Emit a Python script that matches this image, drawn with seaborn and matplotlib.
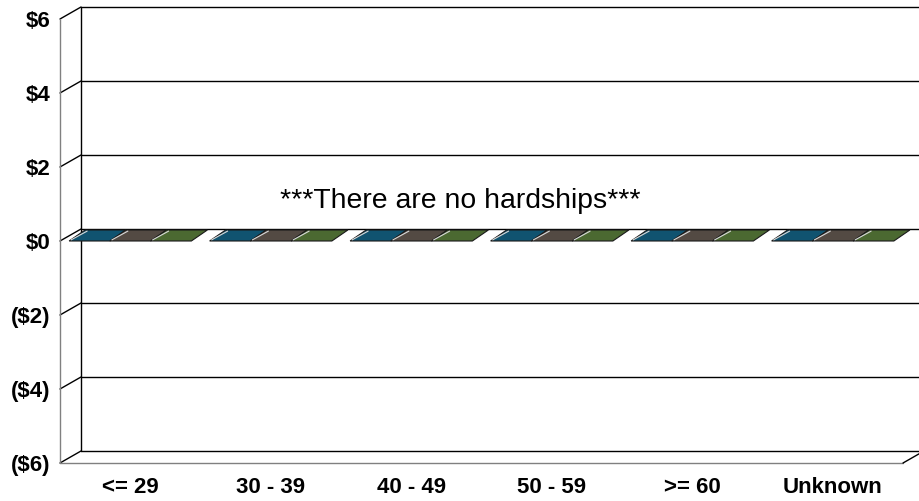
import matplotlib
matplotlib.use("Agg")
import matplotlib.pyplot as plt
from matplotlib.patches import Polygon
import seaborn as sns
import pandas as pd

# Age bands and the three series (all zero: no hardships recorded)
age_bands = ["<= 29", "30 - 39", "40 - 49", "50 - 59", ">= 60", "Unknown"]
series_names = ["Series 1", "Series 2", "Series 3"]
series_1 = [0, 0, 0, 0, 0, 0]
series_2 = [0, 0, 0, 0, 0, 0]
series_3 = [0, 0, 0, 0, 0, 0]
series_colors = ["#005A80", "#564A40", "#4A7228"]
y_ticks = [-6, -4, -2, 0, 2, 4, 6]
y_tick_labels = ["($6)", "($4)", "($2)", "$0", "$2", "$4", "$6"]
note_text = "***There are no hardships***"

rows = []
for name, vals in zip(series_names, [series_1, series_2, series_3]):
    for band, v in zip(age_bands, vals):
        rows.append({"age": band, "amount": v, "series": name})
df = pd.DataFrame(rows)

sns.set_theme(style="white")
plt.rcParams["font.family"] = ["Liberation Sans", "DejaVu Sans"]

W, H = 920, 501
fig = plt.figure(figsize=(W / 100, H / 100), dpi=100)
ax = fig.add_axes([60 / W, 38 / H, 843 / W, 444 / H])

sns.barplot(data=df, x="age", y="amount", hue="series", order=age_bands,
            hue_order=series_names, palette=series_colors, width=0.87,
            legend=False, linewidth=0, ax=ax)

ax.set_xlim(-0.5, len(age_bands) - 0.5)
ax.set_ylim(-6, 6)
for s in ax.spines.values():
    s.set_visible(False)

# pseudo-3D depth offsets in data units
px_x = 843 / len(age_bands)
px_y = 444 / 12
DX, DY = 21 / px_x, 12 / px_y
BDX, BDY = 16 / px_x, 11 / px_y

x0, x1 = -0.5, len(age_bands) - 0.5
line_kw = dict(clip_on=False, zorder=1)

# back wall gridlines and left wall edges
for t in y_ticks:
    ax.plot([x0 + DX, x1 + DX + 0.2], [t + DY, t + DY], color="black", lw=1.0, **line_kw)
    ax.plot([x0, x0 + DX], [t, t + DY], color="black", lw=1.0, **line_kw)
ax.plot([x0 + DX, x0 + DX], [-6 + DY, 6 + DY], color="black", lw=1.0, **line_kw)
ax.plot([x0, x0], [-6, 6], color="#808080", lw=1.0, **line_kw)
ax.plot([x0, x1], [-6, -6], color="#808080", lw=1.0, **line_kw)
ax.plot([x1, x1 + DX], [-6, -6 + DY], color="black", lw=1.0, **line_kw)

# top faces of the bars at their value
for patch in ax.patches:
    bx = patch.get_x()
    bw = patch.get_width()
    val = patch.get_y() + patch.get_height()
    poly = Polygon([(bx, val), (bx + bw, val), (bx + bw + BDX, val + BDY),
                    (bx + BDX, val + BDY)], closed=True,
                   facecolor=patch.get_facecolor(), edgecolor="#1a1a1a",
                   lw=0.8, zorder=3, clip_on=False)
    ax.add_patch(poly)
    # light highlight along the slanted left edge
    off = 2.0 / px_x
    ax.plot([bx + off, bx + BDX + off], [val + 0.03, val + BDY - 0.03],
            color="#d8d8d8", lw=0.8, zorder=4, clip_on=False)

ax.set_yticks(y_ticks)
ax.set_yticklabels(y_tick_labels, fontsize=16, fontweight="bold", color="black")
ax.set_xticks(range(len(age_bands)))
ax.set_xticklabels(age_bands, fontsize=16, fontweight="bold", color="black")
ax.tick_params(axis="y", length=0, pad=7)
ax.tick_params(axis="x", length=0, pad=10)
ax.set_xlabel("")
ax.set_ylabel("")

ax.text(2.35, 1.08, note_text, ha="center", va="center", fontsize=20.4, color="black")

fig.savefig("out.png", dpi=100)
